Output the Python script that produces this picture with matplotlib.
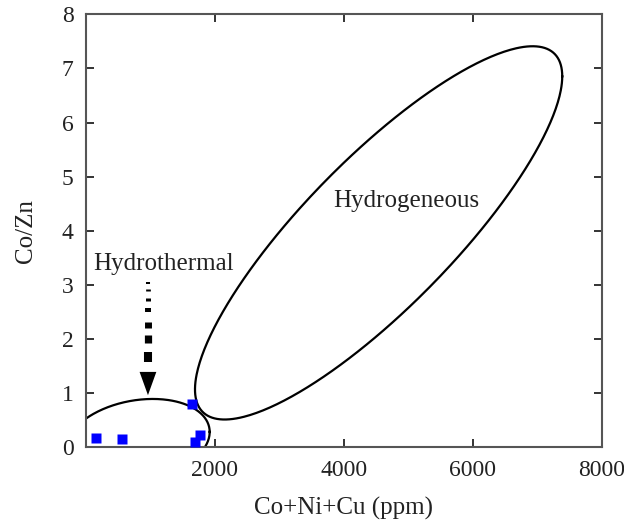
import numpy as np
import matplotlib
matplotlib.use("Agg")
import matplotlib.pyplot as plt

plt.rcParams['font.family'] = ['Liberation Serif', 'DejaVu Serif']

# samples (Co+Ni+Cu ppm, Co/Zn)
cnc = [160, 550, 1641, 1764, 1690]
co_zn = [0.16, 0.15, 0.79, 0.22, 0.10]

# field ellipses: centre x, centre y, x half-extent, y half-extent, phase (deg)
hydrogeneous = dict(cx=4540, cy=3.96, rx=2850, ry=3.45, phi=33)
hydrothermal = dict(cx=802, cy=0.12, rx=1116, ry=0.77, phi=78)

fields = ["Hydrothermal", "Hydrogeneous"]
field_xy = [(1200, 3.38), (4970, 4.55)]

xticks = [2000, 4000, 6000, 8000]
yticks = [0, 1, 2, 3, 4, 5, 6, 7, 8]


def ellipse(e, n=400):
    t = np.linspace(0, 2 * np.pi, n)
    x = e['cx'] + e['rx'] * np.cos(t)
    y = e['cy'] + e['ry'] * np.cos(t - np.radians(e['phi']))
    return x, y


fig = plt.figure(figsize=(6.24, 5.31), dpi=100)
ax = fig.add_axes([0.138, 0.158, 0.826, 0.815])

for e in (hydrogeneous, hydrothermal):
    x, y = ellipse(e)
    ax.plot(x, y, color='black', lw=1.6)

ax.plot(cnc, co_zn, 's', color='#0000ff', ms=7.2, mec='none', zorder=3)

for name, (tx, ty) in zip(fields, field_xy):
    ax.text(tx, ty, name, fontsize=18, ha='center', va='center', color='#222222')

# dashed arrow with growing dashes
ax_x = 960
dashes = [(3.05, 3.01, 2.9), (2.92, 2.88, 3.4), (2.75, 2.70, 3.6), (2.57, 2.50, 4.3),
          (2.31, 2.20, 5.0), (2.07, 1.92, 5.2), (1.76, 1.57, 5.8)]
for y0, y1, w in dashes:
    ax.plot([ax_x, ax_x], [y0, y1], color='black', lw=w, solid_capstyle='butt')
ax.fill([ax_x - 130, ax_x + 130, ax_x], [1.39, 1.39, 0.96], color='black', lw=0)

ax.set_xlim(0, 8000)
ax.set_ylim(0, 8)
ax.set_xticks(xticks)
ax.set_yticks(yticks)
ax.tick_params(direction='in', length=6, width=1.4, top=True, right=True,
               labelsize=17, colors='#333333', labelcolor='#222222', pad=9)
for s in ax.spines.values():
    s.set_linewidth(1.5)
    s.set_color('#555555')

ax.set_xlabel('Co+Ni+Cu (ppm)', fontsize=18, color='#222222', labelpad=12)
ax.set_ylabel('Co/Zn', fontsize=18, color='#222222', labelpad=18)

fig.savefig('out.png', dpi=100)
